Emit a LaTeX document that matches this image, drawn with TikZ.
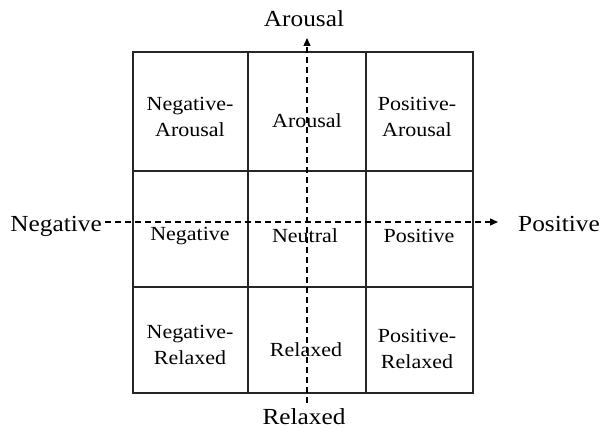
\documentclass[tikz,border=0pt]{standalone}
\usepackage{fontspec}
\setmainfont{Liberation Serif}[FakeStretch=1.1]
\usetikzlibrary{arrows.meta}

\begin{document}
\begin{tikzpicture}[x=1pt,y=-1pt,
    grid/.style={line width=1.8pt,black!85},
    axis/.style={dash pattern=on 6pt off 4pt,line width=1.3pt,
                 -{Triangle[length=8pt,width=7pt]}},
    cell/.style={align=center,font=\fontsize{20}{26}\selectfont,inner sep=0pt},
    lab/.style={font=\fontsize{23}{27}\selectfont,inner sep=0pt}]
    \useasboundingbox (0,0) rectangle (606,430);
    % grid
    \draw[grid] (133,52) rectangle (473,393);
    \foreach \x in {248,366} \draw[grid] (\x,52) -- (\x,393);
    \foreach \y in {171,287} \draw[grid] (133,\y) -- (473,\y);
    % cells
    \node[cell] (na) at (190,117) {Negative-\\Arousal};
    \node[cell] (ar) at (307,121) {Arousal};
    \node[cell] (pa) at (417,117) {Positive-\\Arousal};
    \node[cell] (ng) at (190,236) {Negative};
    \node[cell] (nt) at (305,236) {Neutral};
    \node[cell] (ps) at (419,236) {Positive};
    \node[cell] (nr) at (190,345) {Negative-\\Relaxed};
    \node[cell] (rl) at (306,350) {Relaxed};
    \node[cell] (pr) at (417,349) {Positive-\\Relaxed};
    % axis labels
    \node[lab,anchor=base] (arou) at (304,27) {Arousal};
    \node[lab,anchor=base] (relx) at (304,425) {Relaxed};
    \node[lab,anchor=base east] (neg) at (102,232) {Negative};
    \node[lab,anchor=base west] (pos) at (518,232) {Positive};
    \coordinate (xs) at (105,222);
    \coordinate (xe) at (498,222);
    \coordinate (ys) at (307,403);
    \coordinate (ye) at (307,38);
    % axes
    \draw[axis] (xs) -- (xe);
    \draw[axis] (ys) -- (ye);
\end{tikzpicture}
\end{document}
